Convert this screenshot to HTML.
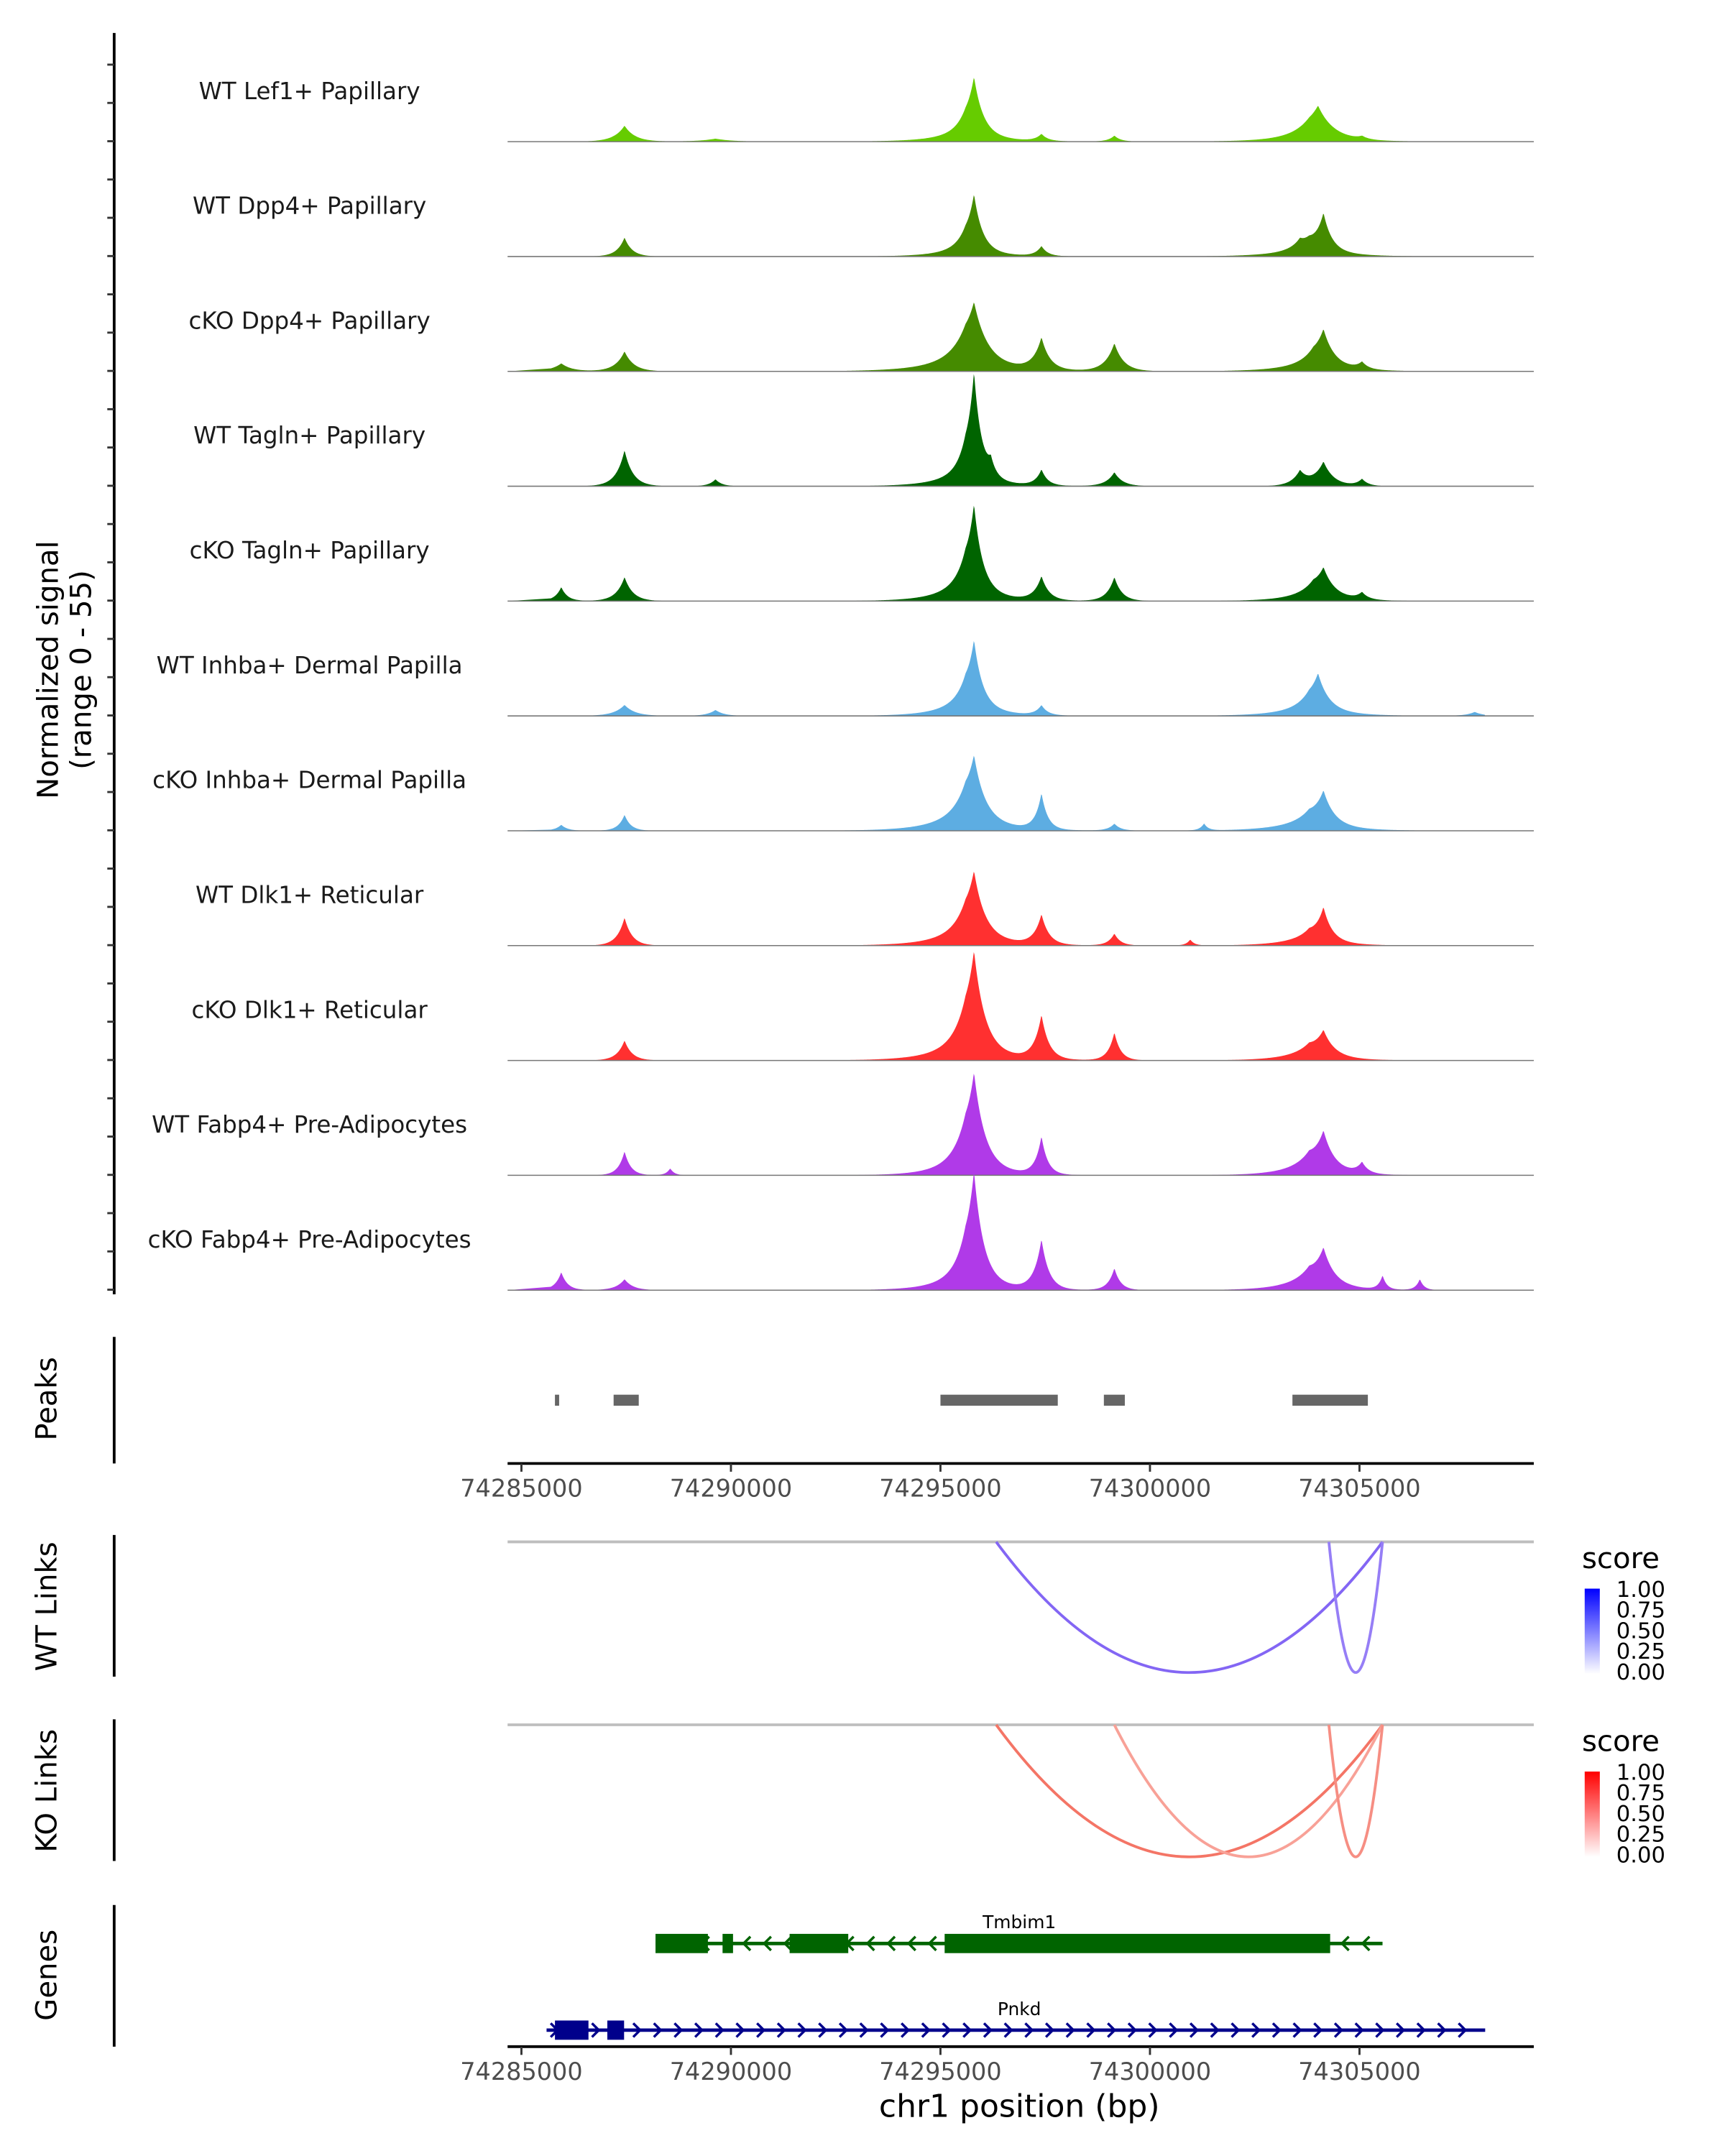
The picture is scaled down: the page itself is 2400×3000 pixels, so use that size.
<!DOCTYPE html>
<html><head><meta charset="utf-8">
<style>
html,body{margin:0;padding:0;background:#fff;}
svg{display:block;font-family:"DejaVu Sans","Liberation Sans",sans-serif;}
</style></head>
<body>
<svg id="chart" width="2400" height="3000" viewBox="0 0 1254 1567.5" xmlns="http://www.w3.org/2000/svg">
<defs>
<linearGradient id="gBlue" x1="0" y1="1" x2="0" y2="0"><stop offset="0" stop-color="#ffffff"/><stop offset="1" stop-color="#0000ff"/></linearGradient>
<linearGradient id="gRed" x1="0" y1="1" x2="0" y2="0"><stop offset="0" stop-color="#ffffff"/><stop offset="1" stop-color="#ff0000"/></linearGradient>
</defs>
<g id="tracks"></g>
<g id="peaks"></g>
<g id="links"></g>
<g id="genes"></g>
<g id="axes"></g>
</svg>
<script>
const trackNames = ["WT Lef1+ Papillary","WT Dpp4+ Papillary","cKO Dpp4+ Papillary","WT Tagln+ Papillary","cKO Tagln+ Papillary","WT Inhba+ Dermal Papilla","cKO Inhba+ Dermal Papilla","WT Dlk1+ Reticular","cKO Dlk1+ Reticular","WT Fabp4+ Pre-Adipocytes","cKO Fabp4+ Pre-Adipocytes"];
const trackColors = ["#66cc00","#458b00","#458b00","#006400","#006400","#5dade2","#5dade2","#ff3030","#ff3030","#b03ae8","#b03ae8"];
// peaks per track: [position bp, height (signal 0-55), width bp]
const trackPeaks = [
 [[74287460,8,250],[74289630,1.5,400],[74295800,28,220],[74295600,6,700],[74297410,3.5,150],[74299150,3,150],[74304010,15,350],[74303800,4,800],[74305060,1.5,150]],
 [[74287460,9.5,180],[74295800,27,200],[74295600,6,600],[74297410,5,150],[74304140,18,200],[74303800,6,700],[74303580,4,200]],
 [[74285950,4,250],[74287460,10,220],[74295800,27,300],[74295600,10,800],[74297410,16,200],[74299150,14,220],[74304140,17,250],[74303900,6,700],[74305060,3.5,150]],
 [[74287460,18,200],[74289630,3.5,150],[74295800,50,180],[74295600,10,600],[74296200,7,120],[74297410,8,150],[74299150,7,200],[74304140,12,250],[74303580,7,200],[74305060,3.5,150]],
 [[74285950,7,150],[74287460,12,200],[74295800,40,200],[74295600,12,600],[74297410,12,180],[74299150,12,180],[74304140,13,250],[74303900,6,600],[74305060,3.5,150]],
 [[74287460,5.5,250],[74289630,3,200],[74295800,31,200],[74295600,10,600],[74297410,5,150],[74304010,17,250],[74303800,6,700],[74307750,2,200]],
 [[74285950,3,150],[74287460,8,150],[74295800,29,250],[74295600,12,700],[74297410,18,150],[74299150,3.5,150],[74301290,3.5,100],[74304140,16,250],[74303800,7,700]],
 [[74287460,14,180],[74295800,30,250],[74295600,10,700],[74297410,15,180],[74299150,6,150],[74300960,3,100],[74304140,16,200],[74303800,6,600]],
 [[74287460,10,180],[74295800,46,250],[74295600,12,700],[74297410,22,180],[74299150,14,150],[74304140,12,250],[74303800,6,600]],
 [[74287460,12,150],[74288550,3.5,100],[74295800,43,250],[74295600,12,600],[74297410,19,150],[74304140,18,250],[74303800,8,600],[74305060,5.5,150]],
 [[74285950,9,150],[74287460,5.5,200],[74295800,51,220],[74295600,12,600],[74297410,25,180],[74299150,11,150],[74304140,17,250],[74303800,8,600],[74305550,7,100],[74306440,5.5,100]]
];
const peakRegions = [[74285800,74285900],[74287200,74287800],[74295000,74297800],[74298900,74299400],[74303400,74305200]];
const linkStarts = [74296330,74304270];
const linkEnds = [74305550,74305550];
const linkScores = [0.6,0.42];
const koLinkStarts = [74296330,74299150,74304270];
const koLinkEnds = [74305550,74305550,74305550];
const koLinkScores = [0.6,0.22,0.38];
const xTicks = [74285000,74290000,74295000,74300000,74305000];
const legendTicks = ["1.00","0.75","0.50","0.25","0.00"];
const tmbimExons = [[74288200,74289450],[74289800,74290050],[74291400,74292800],[74295100,74304300]];
const pnkdExons = [[74285800,74286600],[74287050,74287450]];

const NS="http://www.w3.org/2000/svg";
function mk(tag,attrs,parent,text){const e=document.createElementNS(NS,tag);for(const k in attrs)e.setAttribute(k,attrs[k]);if(text!==undefined)e.textContent=text;parent.appendChild(e);return e;}
const X0=369,X1=1115,BP0=74284670,BP1=74309160;
function xs(bp){return X0+(bp-BP0)/(BP1-BP0)*(X1-X0);}
const TRACK_H=83.5, FIRST_BASE=103, PIX_PER=80/55;
function ys(v,base){return base-v*PIX_PER;}

const gT=document.getElementById('tracks');
trackNames.forEach((name,i)=>{
  const base=FIRST_BASE+i*TRACK_H;
  const g=mk('g',{},gT);
  
  
  let d='M'+X0+','+base;
  const x0=xs(74285700), x1=xs(74308000);
  for(let x=x0;x<=x1;x+=0.5){
    const bp=BP0+(x-X0)/(X1-X0)*(BP1-BP0);
    let v=0;
    trackPeaks[i].forEach(p=>{v+=p[1]*Math.exp(-Math.abs(bp-p[0])/p[2]);});
    d+=' L'+x.toFixed(1)+','+ys(v,base).toFixed(2);
  }
  d+=' L'+x1+','+base+' Z';
  const a=mk('path',{d:d,fill:trackColors[i]},g);
  
  
  const l=mk('line',{x1:X0,x2:X1,y1:base,y2:base,stroke:'#777','stroke-width':0.8},g);
  
  
  const t=mk('text',{x:225,y:base-31,'text-anchor':'middle','font-size':17,fill:'#1a1a1a'},g,name);
  
  
});

const gA=document.getElementById('axes');
function vline(x,y1,y2,name){const l=mk('line',{x1:x,x2:x,y1:y1,y2:y2,stroke:'#000','stroke-width':2},gA);}
vline(83,24,941,'signal-y-axis');
for(let y=47;y<=940;y+=TRACK_H/3){const t=mk('line',{x1:78,x2:83,y1:y,y2:y,stroke:'#333','stroke-width':1.5},gA);}
const yt=mk('text',{transform:'translate(42,487) rotate(-90)','text-anchor':'middle','font-size':21,fill:'#000'},gA);


mk('tspan',{x:0,dy:0},yt,'Normalized signal');
mk('tspan',{x:0,dy:24},yt,'(range 0 - 55)');
function rlabel(txt,y,name){const t=mk('text',{transform:'translate(41,'+y+') rotate(-90)','text-anchor':'middle','font-size':21,fill:'#000'},gA,txt);}
vline(83,972,1064,'peaks-axis');rlabel('Peaks',1017,'peaks-title');
vline(83,1116,1219,'wt-links-axis');rlabel('WT Links',1168,'wt-links-title');
vline(83,1250,1353,'ko-links-axis');rlabel('KO Links',1302,'ko-links-title');
vline(83,1385,1488,'genes-axis');rlabel('Genes',1436,'genes-title');

function xaxis(y,name){
  const l=mk('line',{x1:X0,x2:X1,y1:y,y2:y,stroke:'#000','stroke-width':2},gA);
  
  
  xTicks.forEach(v=>{
    const t=mk('line',{x1:xs(v),x2:xs(v),y1:y,y2:y+6,stroke:'#333','stroke-width':1.5},gA);
    
    
    const tx=mk('text',{x:xs(v),y:y+24,'text-anchor':'middle','font-size':17.5,fill:'#4d4d4d'},gA,String(v));
    
    
  });
}
xaxis(1064,'peaks-x-axis');
xaxis(1488,'genes-x-axis');
const xtitle=mk('text',{x:741,y:1539,'text-anchor':'middle','font-size':23,fill:'#000'},gA,'chr1 position (bp)');



const gP=document.getElementById('peaks');
peakRegions.forEach(r=>{
  const rc=mk('rect',{x:xs(r[0]),y:1014,width:Math.max(2.5,xs(r[1])-xs(r[0])),height:8,fill:'#666666'},gP);
  
  
});

const gL=document.getElementById('links');
function mix(s,c){return 'rgb('+[0,1,2].map(k=>Math.round(255+(c[k]-255)*s)).join(',')+')';}
function linkPanel(top,bottom,starts,ends,scores,col,grad,name){
  const g=mk('g',{},gL);
  
  
  const gl=mk('line',{x1:X0,x2:X1,y1:top,y2:top,stroke:'#bebebe','stroke-width':2},g);
  
  
  starts.forEach((s,i)=>{
    const a=xs(s),b=xs(ends[i]),m=(a+b)/2,cy=2*bottom-top;
    const p=mk('path',{d:'M'+a+','+top+' Q'+m+','+cy+' '+b+','+top,fill:'none',stroke:mix(0.35+scores[i]*0.6,col),'stroke-width':2},g);
    
    
  });
  const lt=mk('text',{x:1150,y:top+19,'font-size':21,fill:'#000'},g,'score');
  
  
  const bar=mk('rect',{x:1152,y:top+34,width:11,height:62,fill:'url(#'+grad+')'},g);
  
  
  legendTicks.forEach((t,k)=>{
    const tx=mk('text',{x:1175,y:top+40+k*15,'font-size':16,fill:'#000'},g,t);
    
    
  });
}
linkPanel(1121,1216,linkStarts,linkEnds,linkScores,[80,40,240],'gBlue','wt-links');
linkPanel(1254,1350,koLinkStarts,koLinkEnds,koLinkScores,[240,60,40],'gRed','ko-links');

const gG=document.getElementById('genes');
function gene(name,y,s,e,exons,col,dir){
  const g=mk('g',{},gG);
  
  
  mk('line',{x1:xs(s),x2:xs(e),y1:y,y2:y,stroke:col,'stroke-width':2.5},g);
  for(let x=xs(s)+6;x<xs(e)-3;x+=15){
    const p=dir>0?'M'+(x-3)+','+(y-5)+' L'+(x+2)+','+y+' L'+(x-3)+','+(y+5):'M'+(x+3)+','+(y-5)+' L'+(x-2)+','+y+' L'+(x+3)+','+(y+5);
    mk('path',{d:p,fill:'none',stroke:col,'stroke-width':1.8},g);
  }
  exons.forEach(ex=>{
    const r=mk('rect',{x:xs(ex[0]),y:y-7,width:xs(ex[1])-xs(ex[0]),height:14,fill:col},g);
    
    
  });
  const t=mk('text',{x:741,y:y-11,'text-anchor':'middle','font-size':13,fill:'#000'},g,name);
  
  
}
gene('Tmbim1',1413,74288200,74305550,tmbimExons,'#006400',-1);
gene('Pnkd',1476,74285600,74308000,pnkdExons,'#00008b',1);
</script>
</body></html>
